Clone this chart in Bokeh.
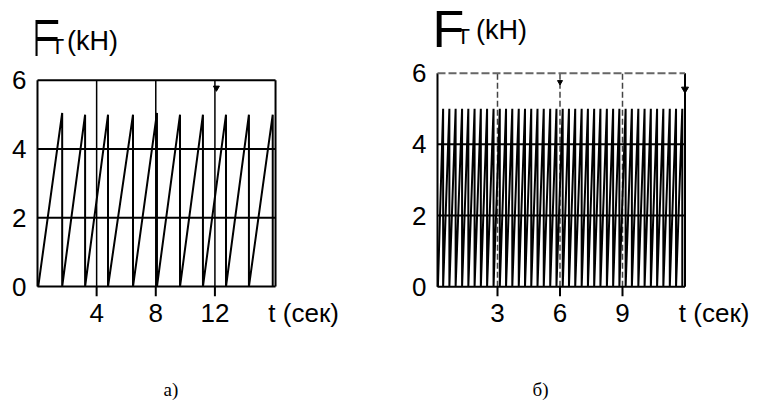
from bokeh.plotting import figure
from bokeh.layouts import row
from bokeh.models import FixedTicker, Label, Title
from bokeh.embed import file_html
from bokeh.resources import INLINE

# ---- data ----
# panel a): slow sawtooth, force F_T (kN) vs time t (s)
a_box_t = (0.0, 16.1)
a_start_t = 0.05
a_peak_t = [1.67, 3.22, 4.77, 6.46, 8.08, 9.64, 11.19, 12.75, 14.30, 15.91]
a_peak_f = [5.05, 5.0, 5.0, 5.0, 5.05, 5.0, 5.0, 5.0, 5.0, 5.0]
a_trough_f = 0.0
a_yticks = [0, 2, 4, 6]
a_xticks = [4, 8, 12]
a_unit_tick = 18.0

# panel б): fast sawtooth
b_box_t = (0.12, 12.0)
b_start_t = 0.14
b_peak_t = [0.39, 0.69, 0.99, 1.30, 1.60, 1.90, 2.20, 2.50, 2.81, 3.11,
            3.41, 3.71, 4.02, 4.32, 4.62, 4.92, 5.22, 5.53, 5.83, 6.13,
            6.43, 6.73, 7.04, 7.34, 7.64, 7.94, 8.25, 8.55, 8.85, 9.15,
            9.45, 9.76, 10.06, 10.36, 10.66, 10.96, 11.27, 11.57, 11.87]
b_peak_f = [5.0] * len(b_peak_t)
b_trough_f = 0.0
b_yticks = [0, 2, 4, 6]
b_xticks = [3, 6, 9]
b_unit_tick = 13.4

F_MAX = 6
UNIT_LABEL = "t (сек)"
SANS = "Liberation Sans"
SERIF = "Liberation Serif"


def saw(start_t, peak_t, peak_f, trough):
    xs, ys = [start_t], [trough]
    for t, f in zip(peak_t, peak_f):
        xs += [t, t]
        ys += [f, trough]
    return xs, ys


def make_fig(width, xr, yr, borders, xticks, yticks, unit_tick):
    l, r, t, b = borders
    p = figure(width=width, height=404, x_range=xr, y_range=yr,
               output_backend="svg", toolbar_location=None,
               min_border_left=l, min_border_right=r,
               min_border_top=t, min_border_bottom=b)
    p.outline_line_color = None
    p.grid.visible = False
    for ax in (p.xaxis[0], p.yaxis[0]):
        ax.axis_line_color = None
        ax.minor_tick_line_color = None
        ax.major_tick_line_color = None
        ax.major_tick_out = 0
        ax.major_tick_in = 0
        ax.major_label_text_font = SANS
        ax.major_label_text_font_size = "26px"
        ax.major_label_text_color = "black"
    p.yaxis[0].ticker = FixedTicker(ticks=yticks)
    p.yaxis[0].major_label_standoff = 9
    p.xaxis[0].ticker = FixedTicker(ticks=xticks + [unit_tick])
    p.xaxis[0].major_label_overrides = {unit_tick: UNIT_LABEL}
    p.xaxis[0].major_label_standoff = 1
    return p


def box_and_grid(p, box, xticks, ylo, vcolor, vdash, top_color, top_dash):
    x0, x1 = box
    p.segment(x0=[x0, x0], y0=[2, 4], x1=[x1, x1], y1=[2, 4],
              line_color="black", line_width=2)
    p.segment(x0=xticks, y0=[0] * len(xticks), x1=xticks, y1=[F_MAX] * len(xticks),
              line_color=vcolor, line_width=1.5, line_dash=vdash)
    p.segment(x0=xticks, y0=[0] * len(xticks), x1=xticks, y1=[ylo] * len(xticks),
              line_color="black", line_width=2)
    p.line([x0, x1], [0, 0], line_color="black", line_width=2)
    p.line([x0, x0], [0, F_MAX], line_color="black", line_width=2)
    p.line([x1, x1], [0, F_MAX], line_color="black", line_width=2)
    p.line([x0, x1], [F_MAX, F_MAX], line_color=top_color, line_width=2,
           line_dash=top_dash)


def titles(p, fx, fy, tx, ty, kx, ky):
    p.add_layout(Label(x=fx, y=fy, text="F", text_font=SANS, text_color="black",
                       text_font_size="52px", text_baseline="alphabetic"))
    p.add_layout(Label(x=tx, y=ty, text="T", text_font=SANS, text_color="black",
                       text_font_size="22px", text_baseline="alphabetic"))
    p.add_layout(Label(x=kx, y=ky, text="(kH)", text_font=SANS, text_color="black",
                       text_font_size="27px", text_baseline="alphabetic"))


def caption(p, text, offset):
    p.add_layout(Title(text="\n\n" + text, align="left", offset=offset, standoff=8,
                       text_font=SERIF, text_font_size="19px",
                       text_font_style="normal", text_color="black"), "below")


# ---- panel a) ----
a_ylo = -0.29
p1 = make_fig(388, (-0.135, 18.6), (a_ylo, 8.03), (35, 76, 10, 107),
              a_xticks, a_yticks, a_unit_tick)
box_and_grid(p1, a_box_t, a_xticks, a_ylo, "black", "solid", "black", "solid")
xs, ys = saw(a_start_t, a_peak_t, a_peak_f, a_trough_f)
p1.line(xs, ys, line_color="black", line_width=2)
p1.scatter([12.1], [5.78], marker="inverted_triangle", size=6, color="black")
titles(p1, -0.6, 7.22, 0.9, 6.97, 2.0, 7.15)
caption(p1, "а)", 128)

# ---- panel б) ----
b_ylo = -0.275
p2 = make_fig(372, (0.024, 13.8), (b_ylo, 7.76), (47, 38, 4, 108),
              b_xticks, b_yticks, b_unit_tick)
box_and_grid(p2, b_box_t, b_xticks, b_ylo, "#444444", "6 3", "#666666", "8 3")
xs, ys = saw(b_start_t, b_peak_t, b_peak_f, b_trough_f)
p2.line(xs, ys, line_color="black", line_width=2)
p2.scatter([6.0, 12.0], [5.75, 5.55], marker="inverted_triangle", size=[5, 7],
           color="black")
titles(p2, -0.12, 7.25, 1.03, 7.02, 1.97, 7.2)
caption(p2, "б)", 97)

layout = row(p1, p2)
open("out.html", "w").write(file_html(layout, INLINE))
